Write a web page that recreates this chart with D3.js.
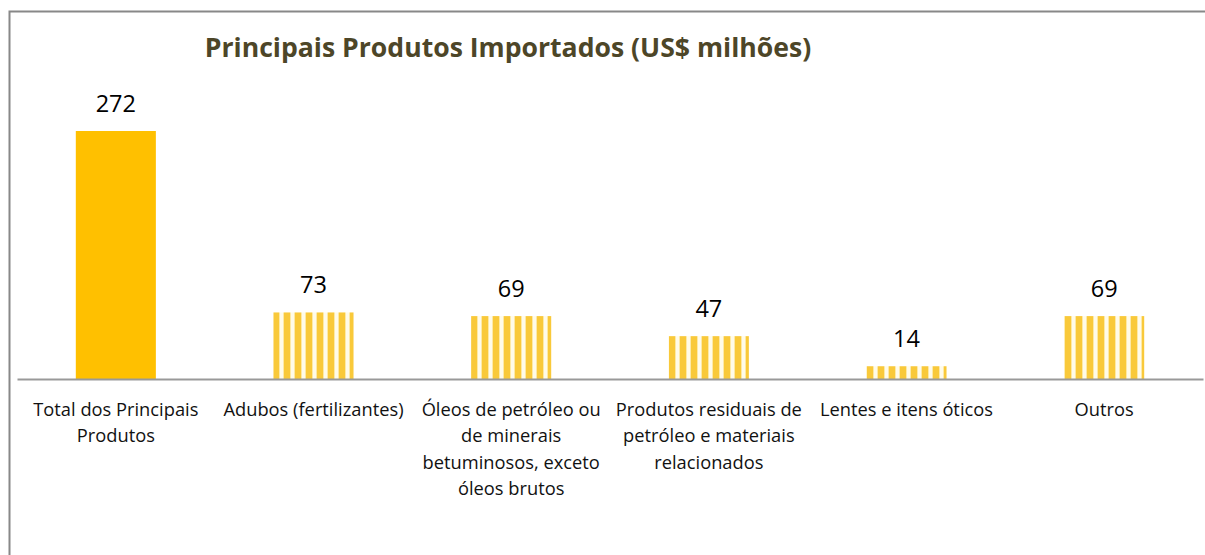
<!DOCTYPE html>
<meta charset="utf-8">
<style>
body { margin: 0; background: #fff; }
text { font-family: "Open Sans", "Noto Sans", sans-serif; }
.title { font-size: 26.6px; font-weight: bold; fill: #4d4628; }
.val { font-size: 23.5px; fill: #000; }
.cat { font-size: 18.3px; fill: #111; }
</style>
<svg width="1205" height="555"></svg>
<script src="https://cdnjs.cloudflare.com/ajax/libs/d3/7.8.5/d3.min.js"></script>
<script>

// chart data
var titleText = "Principais Produtos Importados (US$ milhões)";
var categories = ["Total", "Adubos", "Oleos", "Residuais", "Lentes", "Outros"];
var catLabels = [
  ["Total dos Principais", "Produtos"],
  ["Adubos (fertilizantes)"],
  ["Óleos de petróleo ou", "de minerais", "betuminosos, exceto", "óleos brutos"],
  ["Produtos residuais de", "petróleo e materiais", "relacionados"],
  ["Lentes e itens óticos"],
  ["Outros"]
];
var values = [272, 73, 69, 47, 14, 69];

var svg = d3.select("svg"),
    width = +svg.attr("width"),
    height = +svg.attr("height");

var baseY = 379;

// outer frame (runs past the right and bottom edges)
svg.append("rect")
    .attr("x", 9.5).attr("y", 11.5)
    .attr("width", 1205).attr("height", 600)
    .attr("fill", "none")
    .attr("stroke", "#888")
    .attr("stroke-width", 2);

// striped fill
var defs = svg.append("defs");
var pat = defs.append("pattern")
    .attr("id", "stripes")
    .attr("patternUnits", "userSpaceOnUse")
    .attr("x", 273).attr("y", 0)
    .attr("width", 11).attr("height", 10);
pat.append("rect").attr("width", 11).attr("height", 10).attr("fill", "#fffbe9");
pat.append("rect").attr("x", 0).attr("width", 6).attr("height", 10).attr("fill", "#f9c93a");
pat.append("rect").attr("x", 6).attr("width", 1).attr("height", 10).attr("fill", "#fde9a6");
pat.append("rect").attr("x", 10).attr("width", 1).attr("height", 10).attr("fill", "#fde9a6");

var x = d3.scaleBand()
    .domain(categories)
    .range([17, 1203])
    .paddingInner(0.595)
    .paddingOuter(0.2975);

var y = d3.scaleLinear()
    .domain([0, 272])
    .range([baseY, 131]);

svg.append("text")
    .attr("class", "title")
    .attr("x", 508)
    .attr("y", 57)
    .attr("text-anchor", "middle")
    .text(titleText);

svg.append("g").selectAll("rect")
    .data(values)
    .enter().append("rect")
      .attr("x", function(d, i) { return x(categories[i]); })
      .attr("y", function(d) { return y(d); })
      .attr("width", x.bandwidth())
      .attr("height", function(d) { return baseY - y(d); })
      .attr("fill", function(d, i) { return i === 0 ? "#ffc000" : "url(#stripes)"; });

svg.append("g").selectAll("text")
    .data(values)
    .enter().append("text")
      .attr("class", "val")
      .attr("x", function(d, i) { return x(categories[i]) + x.bandwidth() / 2; })
      .attr("y", function(d) { return y(d) - 19; })
      .attr("text-anchor", "middle")
      .text(function(d) { return d; });

// category axis
var axis = svg.append("g")
    .attr("transform", "translate(0," + baseY + ")")
    .call(d3.axisBottom(x).tickSize(0).tickFormat(""));
axis.select(".domain").attr("stroke", "#999").attr("stroke-width", 2);

var labels = svg.append("g").selectAll("text")
    .data(categories)
    .enter().append("text")
      .attr("class", "cat")
      .attr("text-anchor", "middle")
      .attr("transform", function(d) { return "translate(" + (x(d) + x.bandwidth() / 2) + ",416)"; });

labels.selectAll("tspan")
    .data(function(d, i) { return catLabels[i]; })
    .enter().append("tspan")
      .attr("x", 0)
      .attr("y", function(d, j) { return j * 26.3; })
      .text(function(d) { return d; });

</script>
